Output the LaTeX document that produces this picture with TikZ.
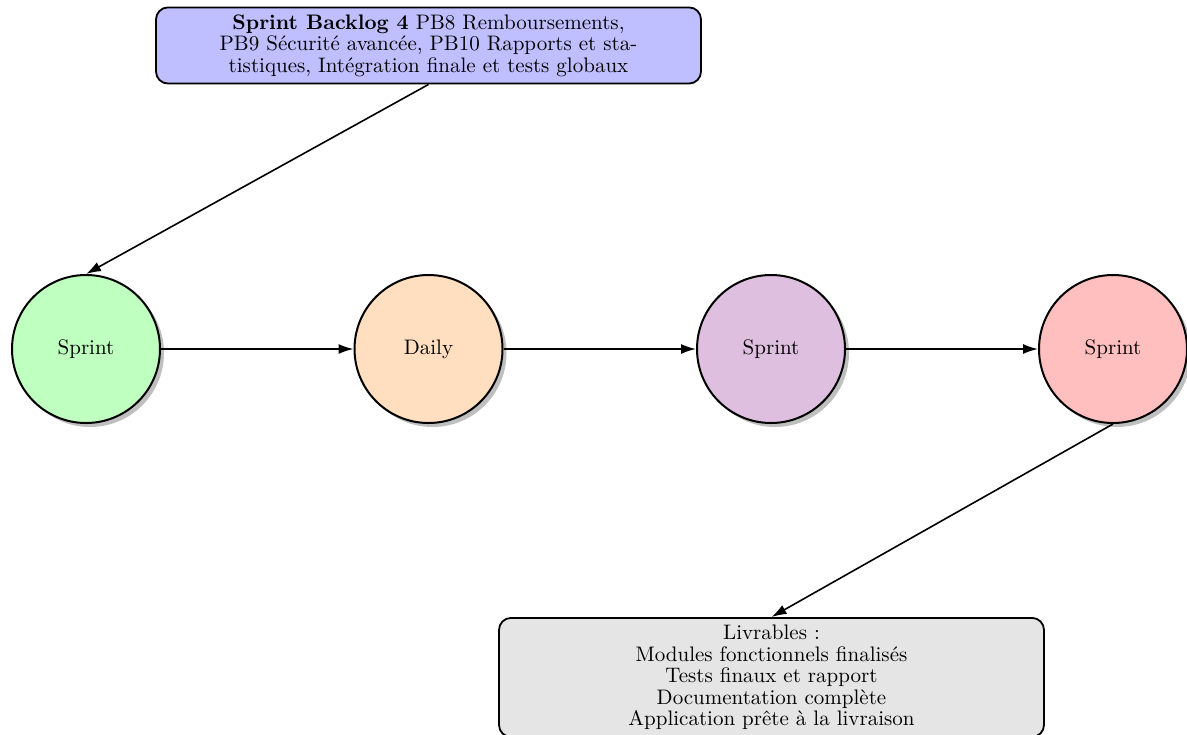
\documentclass[tikz,border=0pt]{standalone}
\usetikzlibrary{arrows.meta,shadows}
\begin{document}
\begin{tikzpicture}[x=0.5pt,y=-0.5pt,
  every node/.style={font=\fontsize{10.5pt}{10.8pt}\selectfont},
  phase/.style={circle,draw,line width=1pt,minimum size=74pt,inner sep=0pt,
    drop shadow={shadow xshift=2pt,shadow yshift=-2pt,fill=black!25,opacity=1}},
  infobox/.style={draw,line width=0.9pt,rounded corners=6pt,align=center,
    minimum width=272.5pt,inner sep=3.5pt},
  flow/.style={thick,-{Latex[length=7.5pt,width=5pt]}}]
  \useasboundingbox (0,0) rectangle (1187,734);

  % sprint cycle
  \node[phase,fill=green!25]  (s1) at (86,349)   {Sprint};
  \node[phase,fill=orange!25] (s2) at (428.5,349) {Daily};
  \node[phase,fill=violet!25] (s3) at (771,349)  {Sprint};
  \node[phase,fill=red!25]    (s4) at (1113,349) {Sprint};

  % backlog and deliverables
  \node[infobox,fill=blue!25,anchor=north] (bl) at (428.5,6.5)
    {\textbf{Sprint Backlog 4} PB8 Remboursements,\\
     PB9 Sécurité avancée, PB10 Rapports et sta-\\
     tistiques, Intégration finale et tests globaux};
  \node[infobox,fill=black!10,anchor=north] (lv) at (771.5,617)
    {Livrables :\\ Modules fonctionnels finalisés\\ Tests finaux et rapport\\
     Documentation complète\\ Application prête à la livraison};

  \draw[flow] (bl.south) -- (s1.north);
  \draw[flow] (s1) -- (s2);
  \draw[flow] (s2) -- (s3);
  \draw[flow] (s3) -- (s4);
  \draw[flow] (s4.south) -- (lv.north);
\end{tikzpicture}
\end{document}
